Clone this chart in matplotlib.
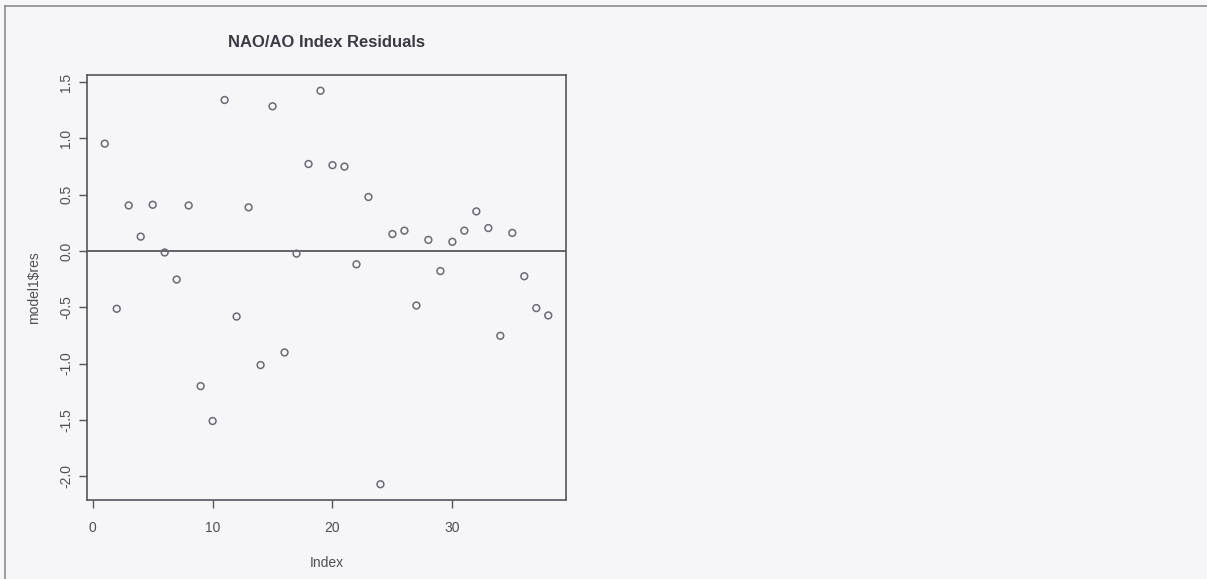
import matplotlib
matplotlib.use("Agg")
import matplotlib.pyplot as plt
from matplotlib.lines import Line2D

plt.rcParams["font.family"] = ["Liberation Sans", "DejaVu Sans"]

# residuals of model1, one per observation
index = list(range(1, 39))
residuals = [
    0.954, -0.513, 0.405, 0.128, 0.411, -0.013, -0.253, 0.405, -1.20, -1.51,
    1.342, -0.582, 0.388, -1.013, 1.286, -0.901, -0.023, 0.773, 1.424, 0.763,
    0.750, -0.118, 0.480, -2.072, 0.151, 0.181, -0.484, 0.099, -0.178, 0.082,
    0.181, 0.352, 0.204, -0.753, 0.161, -0.224, -0.507, -0.572,
]
xticks = [0, 10, 20, 30]
yticks = [-2.0, -1.5, -1.0, -0.5, 0.0, 0.5, 1.0, 1.5]

bg = "#f6f6f8"
ink = "#55555e"

fig = plt.figure(figsize=(12.07, 5.79), dpi=100, facecolor=bg)
ax = fig.add_axes([87 / 1207, 1 - 500 / 579, 479 / 1207, 425 / 579])
ax.set_facecolor(bg)

ax.scatter(index, residuals, s=24, facecolors="none", edgecolors="#6a6a78",
           linewidths=1.1, zorder=3)
ax.axhline(0, color="#4a4a55", linewidth=1.2, zorder=2)

# R-style 4% padding around the data range
xpad = (max(index) - min(index)) * 0.04
ypad = (max(residuals) - min(residuals)) * 0.04
ax.set_xlim(min(index) - xpad, max(index) + xpad)
ax.set_ylim(min(residuals) - ypad, max(residuals) + ypad)

ax.set_xticks(xticks)
ax.set_xticklabels([str(t) for t in xticks])
ax.set_yticks(yticks)
ax.set_yticklabels([f"{t:.1f}" for t in yticks], rotation=90, va="center")
ax.tick_params(axis="both", direction="out", length=6, width=1, color=ink,
               labelcolor="#4e4e56", labelsize=10)
ax.tick_params(axis="x", pad=9)
ax.tick_params(axis="y", pad=4)

for side in ax.spines.values():
    side.set_color(ink)
    side.set_linewidth(1.2)

ax.set_title("NAO/AO Index Residuals", fontsize=12, fontweight="bold",
             color="#3a3a44", pad=20)
ax.set_xlabel("Index", fontsize=10, color="#4e4e56", labelpad=15)
ax.set_ylabel("model1$res", fontsize=10, color="#4e4e56", labelpad=13)

# thin frame along the top and left edge of the page
fig.add_artist(Line2D([5 / 1207, 1], [1 - 6 / 579, 1 - 6 / 579],
                      color="#8a8a92", linewidth=1.2))
fig.add_artist(Line2D([5 / 1207, 5 / 1207], [0, 1 - 6 / 579],
                      color="#8a8a92", linewidth=1.2))

fig.savefig("out.png", dpi=100, facecolor=bg)
